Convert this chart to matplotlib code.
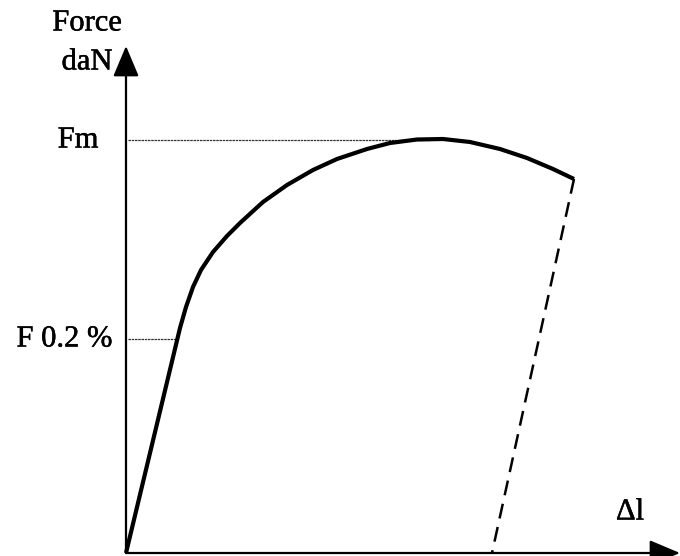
import matplotlib.pyplot as plt
import matplotlib.patheffects as pe

plt.rcParams['font.family'] = ['Liberation Serif', 'DejaVu Serif']

# tensile test curve (elongation, force) in drawing units
curve_dl = [0, 54, 60, 67, 75, 87, 101, 114, 137, 161, 187, 211, 241, 264, 291,
            317, 344, 374, 401, 427, 448]
curve_f = [0, 225, 246, 266, 283, 301, 317, 330, 351, 368, 383, 394, 404, 410, 413.5,
           414, 411, 404, 395, 384, 374]

# elastic unloading after rupture
unload_dl = [448, 366]
unload_f = [374, 0]

F_M = 413
F_02 = 214
DL_02 = 51
DL_FM = 304

fig = plt.figure(figsize=(6.8, 5.56), dpi=100)
ax = fig.add_axes([0, 0, 1, 1])
ax.set_xlim(-126, 554)
ax.set_ylim(-3, 553)
ax.axis('off')

# axes with arrow heads
arr = dict(arrowstyle='-|>,head_length=0.95,head_width=0.4', color='black', lw=1.6,
           mutation_scale=20, shrinkA=0, shrinkB=0)
ax.annotate('', xy=(0, 507), xytext=(0, 0), arrowprops=arr)
ax.annotate('', xy=(554, 0), xytext=(0, 0), arrowprops=arr)

# reference levels
ax.plot([2, DL_FM], [F_M, F_M], color='#333333', lw=0.9, ls=(0, (2, 0.6)))
ax.plot([2, DL_02], [F_02, F_02], color='#333333', lw=0.9, ls=(0, (2, 0.6)))

ax.plot(curve_dl, curve_f, color='black', lw=3.0, solid_capstyle='butt', solid_joinstyle='round')
ax.plot(unload_dl, unload_f, color='black', lw=1.8, ls=(0, (6, 3.5)))

txt = dict(fontsize=22, va='center', path_effects=[pe.withStroke(linewidth=0.35, foreground='black')])
ax.text(-39, 530, 'Force', ha='center', **txt)
ax.text(-39, 491, 'daN', ha='center', **txt)
ax.text(-48, F_M, 'Fm', ha='center', **txt)
ax.text(-14, F_02, 'F 0.2 %', ha='right', **txt)
ax.text(504, 41, 'Δl', ha='center', **txt)

fig.savefig('out.png', dpi=100)
